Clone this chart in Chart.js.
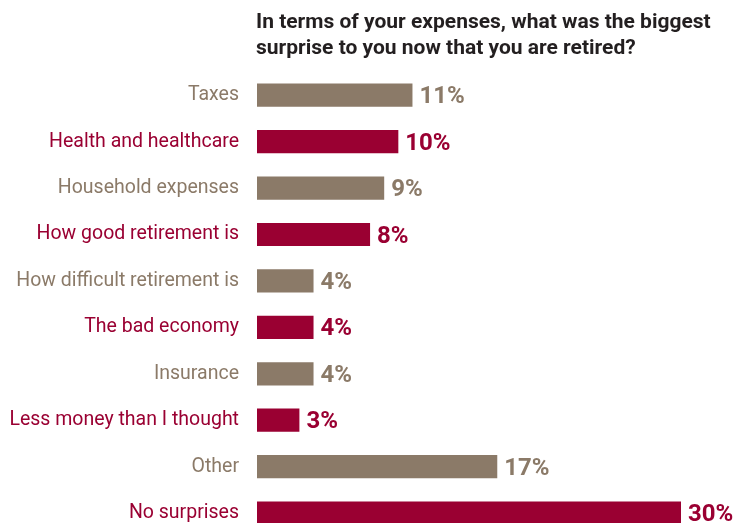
<!DOCTYPE html>
<html>
<head>
<meta charset="utf-8">
<script src="https://cdn.jsdelivr.net/npm/chart.js@4/dist/chart.umd.min.js"></script>
<style>
  html, body { margin: 0; padding: 0; background: #fff; overflow: hidden; }
  /* taller than the window: the last bar is cut at the bottom edge, as in the original */
  #wrap { width: 735px; height: 566px; }
</style>
</head>
<body>
<div id="wrap"><canvas id="chart"></canvas></div>
<script>
const categories = [
    'Taxes',
    'Health and healthcare',
    'Household expenses',
    'How good retirement is',
    'How difficult retirement is',
    'The bad economy',
    'Insurance',
    'Less money than I thought',
    'Other',
    'No surprises',
]
const shares = [11, 10, 9, 8, 4, 4, 4, 3, 17, 30]
const titleLines = [
    'In terms of your expenses, what was the biggest',
    'surprise to you now that you are retired?',
]

const TAUPE = '#8b7a68'
const CRIMSON = '#9a0032'
const FONT = 'Roboto, "Liberation Sans", sans-serif'
const colorAt = i => (i % 2 === 0 ? TAUPE : CRIMSON)

// title drawn above the bars, left aligned with them
const titlePlugin = {
    id: 'sideTitle',
    afterDraw(chart) {
        const { ctx, chartArea } = chart
        ctx.save()
        ctx.fillStyle = '#231f20'
        ctx.font = 'bold 21px ' + FONT
        ctx.textBaseline = 'middle'
        ctx.textAlign = 'left'
        titleLines.forEach((line, i) => ctx.fillText(line, chartArea.left - 1, 23 + i * 26))
        ctx.restore()
    },
}

// percent labels at the end of each bar
const valuePlugin = {
    id: 'barValues',
    afterDatasetsDraw(chart) {
        const { ctx } = chart
        const meta = chart.getDatasetMeta(0)
        ctx.save()
        ctx.font = 'bold 24px ' + FONT
        ctx.textBaseline = 'middle'
        ctx.textAlign = 'left'
        meta.data.forEach((bar, i) => {
            ctx.fillStyle = colorAt(i)
            ctx.fillText(shares[i] + '%', bar.x + 7, bar.y + 2)
        })
        ctx.restore()
    },
}

new Chart(document.getElementById('chart'), {
    type: 'bar',
    data: {
        labels: categories,
        datasets: [{
            data: shares,
            backgroundColor: categories.map((c, i) => colorAt(i)),
            borderWidth: 0,
            categoryPercentage: 1,
            barPercentage: 0.5,
        }],
    },
    options: {
        indexAxis: 'y',
        responsive: true,
        maintainAspectRatio: false,
        animation: false,
        layout: {
            padding: { top: 72, right: 54, bottom: 0, left: 0 },
        },
        plugins: {
            legend: { display: false },
            tooltip: { enabled: false },
        },
        scales: {
            x: {
                display: false,
                min: 0,
                max: 30,
            },
            y: {
                grid: { display: false, drawTicks: false },
                border: { display: false },
                afterFit: scale => { scale.width = 257 },
                ticks: {
                    padding: 18,
                    color: ctx => colorAt(ctx.index),
                    font: { family: FONT, size: 19.5 },
                },
            },
        },
    },
    plugins: [titlePlugin, valuePlugin],
})
</script>
</body>
</html>
